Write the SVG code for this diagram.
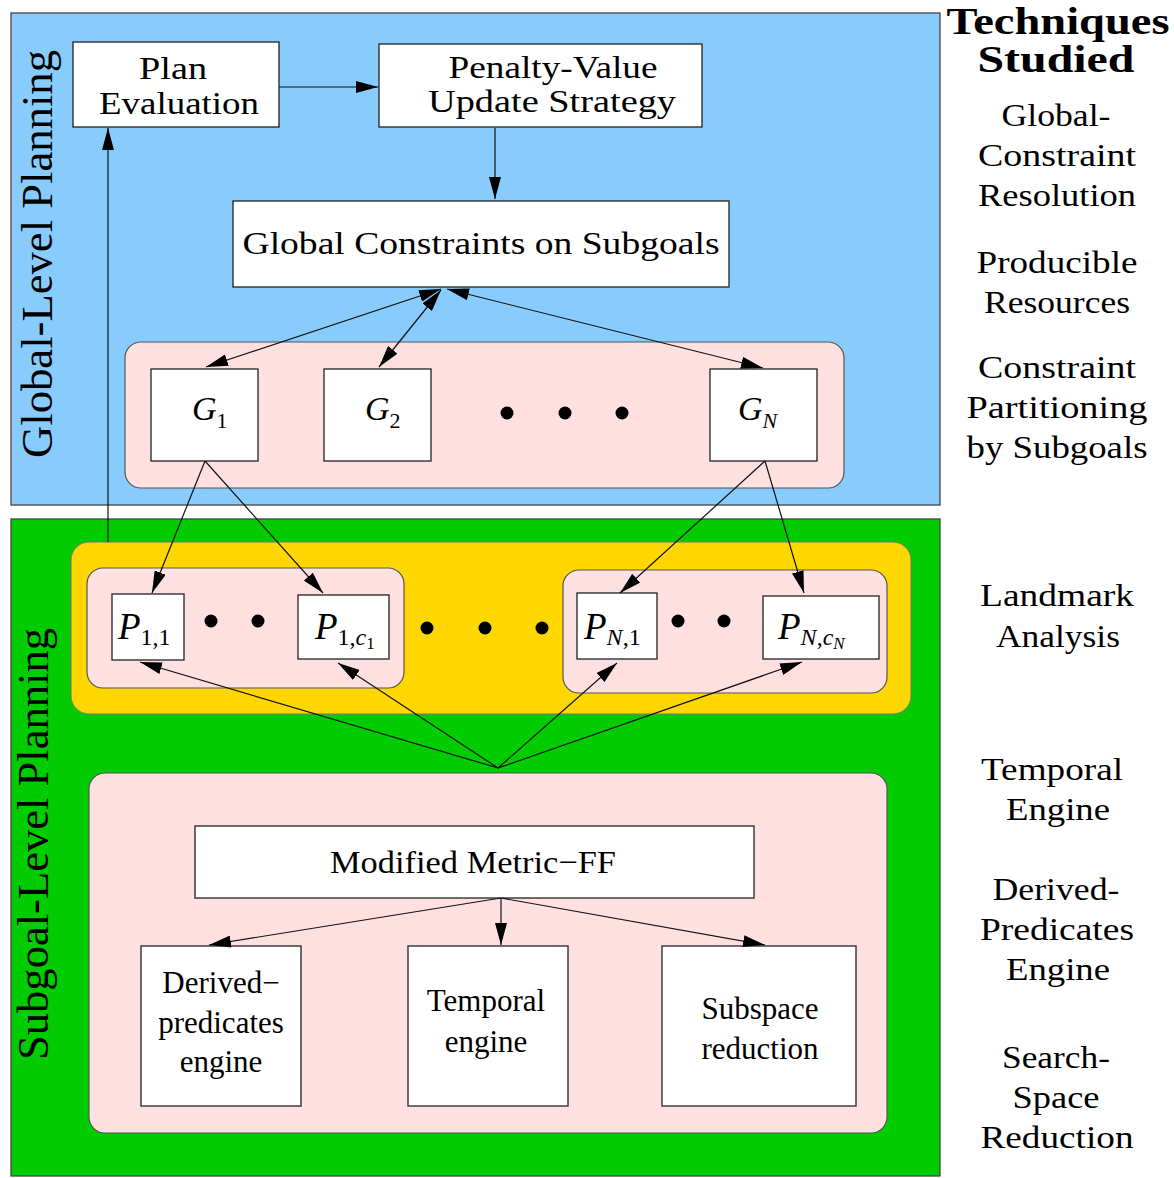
<svg xmlns="http://www.w3.org/2000/svg" width="1174" height="1178" viewBox="0 0 1174 1178">
<style>
.t{font-family:"Liberation Serif","Times New Roman",serif;fill:#000}
.c{text-anchor:middle}
.lbl{font-size:32px}
.side{font-size:32px}
.bx{font-size:31px}
.it{font-style:italic}
.up{font-style:normal}
.box{fill:#fff;stroke:#222;stroke-width:1.3}
.grp{fill:#ffe0e0;stroke:#555;stroke-width:1.2}
.panel{stroke:#444;stroke-width:1.3}
.dot{fill:#000}
.ln{stroke:#111;stroke-width:1.2;fill:none;marker-end:url(#ah)}
.bi{marker-start:url(#ah)}
</style>
<defs>
<marker id="ah" markerUnits="userSpaceOnUse" markerWidth="22" markerHeight="12" refX="22" refY="6" orient="auto-start-reverse">
<path d="M0,0 L22,6 L0,12 z" fill="#000"/>
</marker>
</defs>
<rect width="1174" height="1178" fill="#fff"/>

<g id="global-panel">
<rect class="panel" x="11" y="13" width="929" height="492" fill="#87ccfc"/>
<text class="t c" font-size="44" transform="translate(52,254) rotate(-90)" textLength="408" lengthAdjust="spacingAndGlyphs">Global-Level Planning</text>
</g>
<g id="subgoal-panel">
<rect class="panel" x="11" y="519" width="929" height="657" fill="#00cc00"/>
<text class="t c" font-size="44" transform="translate(48,844) rotate(-90)" textLength="432" lengthAdjust="spacingAndGlyphs">Subgoal-Level Planning</text>
</g>

<g id="subgoal-group">
<rect class="grp" x="125" y="342" width="719" height="146" rx="16"/>
<circle class="dot" cx="507" cy="413" r="6.5"/>
<circle class="dot" cx="565" cy="413" r="6.5"/>
<circle class="dot" cx="622" cy="413" r="6.5"/>
</g>

<g id="landmark-group">
<rect x="71" y="542" width="840" height="172" rx="18" fill="#ffd700" stroke="#777" stroke-width="1"/>
<rect class="grp" x="87" y="568" width="317" height="120" rx="16"/>
<rect class="grp" x="563" y="570" width="324" height="123" rx="16"/>
<circle class="dot" cx="211" cy="621" r="6.5"/>
<circle class="dot" cx="258" cy="621" r="6.5"/>
<circle class="dot" cx="427" cy="628" r="6.5"/>
<circle class="dot" cx="485" cy="628" r="6.5"/>
<circle class="dot" cx="542" cy="628" r="6.5"/>
<circle class="dot" cx="678" cy="621" r="6.5"/>
<circle class="dot" cx="724" cy="621" r="6.5"/>
</g>

<g id="engine-group">
<rect class="grp" x="89" y="773" width="798" height="360" rx="16"/>
</g>

<g id="plan-evaluation">
<rect class="box" x="73" y="42" width="206" height="85"/>
<text class="t c lbl" x="173" y="79" textLength="68" lengthAdjust="spacingAndGlyphs">Plan</text>
<text class="t c lbl" x="179" y="114" textLength="160" lengthAdjust="spacingAndGlyphs">Evaluation</text>
</g>
<g id="penalty-value">
<rect class="box" x="379" y="44" width="323" height="83"/>
<text class="t c lbl" x="553" y="78" textLength="209" lengthAdjust="spacingAndGlyphs">Penalty-Value</text>
<text class="t c lbl" x="552" y="112" textLength="248" lengthAdjust="spacingAndGlyphs">Update Strategy</text>
</g>
<g id="global-constraints">
<rect class="box" x="233" y="201" width="496" height="86"/>
<text class="t c lbl" x="481" y="254" textLength="477" lengthAdjust="spacingAndGlyphs">Global Constraints on Subgoals</text>
</g>

<g id="G1">
<rect class="box" x="151" y="369" width="107" height="92"/>
<text class="t it" font-size="34" x="192" y="420">G<tspan class="up" font-size="22" dy="8">1</tspan></text>
</g>
<g id="G2">
<rect class="box" x="324" y="369" width="107" height="92"/>
<text class="t it" font-size="34" x="365" y="420">G<tspan class="up" font-size="22" dy="8">2</tspan></text>
</g>
<g id="GN">
<rect class="box" x="710" y="369" width="107" height="92"/>
<text class="t it" font-size="34" x="738" y="420">G<tspan font-size="22" dy="8">N</tspan></text>
</g>

<g id="P11">
<rect class="box" x="112" y="594" width="72" height="66"/>
<text class="t it" font-size="37" x="118" y="639">P<tspan class="up" font-size="24" dy="6">1,1</tspan></text>
</g>
<g id="P1c1">
<rect class="box" x="298" y="595" width="91" height="64"/>
<text class="t it" font-size="37" x="315" y="639">P<tspan class="up" font-size="24" dy="6">1,</tspan><tspan font-size="24">c</tspan><tspan class="up" font-size="17" dy="4">1</tspan></text>
</g>
<g id="PN1">
<rect class="box" x="577" y="593" width="80" height="66"/>
<text class="t it" font-size="37" x="584" y="639">P<tspan font-size="24" dy="6">N</tspan><tspan class="up" font-size="24">,1</tspan></text>
</g>
<g id="PNcN">
<rect class="box" x="763" y="596" width="116" height="63"/>
<text class="t it" font-size="37" x="778" y="639">P<tspan font-size="24" dy="6">N</tspan><tspan class="up" font-size="24">,</tspan><tspan font-size="24">c</tspan><tspan font-size="17" dy="4">N</tspan></text>
</g>

<g id="metric-ff">
<rect class="box" x="195" y="826" width="559" height="72"/>
<text class="t c" font-size="32" x="473" y="873" textLength="286" lengthAdjust="spacingAndGlyphs">Modified Metric−FF</text>
</g>
<g id="derived-engine">
<rect class="box" x="141" y="946" width="160" height="160"/>
<text class="t c bx" x="221" y="993">Derived−</text>
<text class="t c bx" x="221" y="1033">predicates</text>
<text class="t c bx" x="221" y="1072">engine</text>
</g>
<g id="temporal-engine">
<rect class="box" x="408" y="946" width="160" height="160"/>
<text class="t c bx" x="486" y="1011">Temporal</text>
<text class="t c bx" x="486" y="1052">engine</text>
</g>
<g id="subspace-reduction">
<rect class="box" x="662" y="946" width="194" height="160"/>
<text class="t c bx" x="760" y="1019">Subspace</text>
<text class="t c bx" x="760" y="1059">reduction</text>
</g>

<g id="connectors">
<line class="ln" x1="279" y1="87" x2="378" y2="87"/>
<line class="ln" x1="495" y1="128" x2="495" y2="199"/>
<line class="ln" x1="108" y1="542" x2="108" y2="128"/>
<line class="ln bi" x1="441" y1="289" x2="206" y2="367"/>
<line class="ln bi" x1="441" y1="290" x2="379" y2="367"/>
<line class="ln bi" x1="447" y1="289" x2="763" y2="368"/>
<line class="ln" x1="205" y1="461" x2="152" y2="593"/>
<line class="ln" x1="205" y1="461" x2="323" y2="593"/>
<line class="ln" x1="765" y1="461" x2="620" y2="593"/>
<line class="ln" x1="765" y1="461" x2="804" y2="593"/>
<line class="ln" x1="498" y1="768" x2="140" y2="662"/>
<line class="ln" x1="498" y1="768" x2="338" y2="663"/>
<line class="ln" x1="498" y1="768" x2="617" y2="663"/>
<line class="ln" x1="498" y1="768" x2="802" y2="662"/>
<line class="ln" x1="501" y1="898" x2="209" y2="945"/>
<line class="ln" x1="501" y1="898" x2="501" y2="945"/>
<line class="ln" x1="501" y1="898" x2="765" y2="945"/>
</g>

<g id="techniques">
<text class="t c" font-size="38" font-weight="bold" x="1058" y="34" textLength="223" lengthAdjust="spacingAndGlyphs">Techniques</text>
<text class="t c" font-size="38" font-weight="bold" x="1056" y="72" textLength="157" lengthAdjust="spacingAndGlyphs">Studied</text>
<text class="t c side" x="1056" y="126" textLength="109" lengthAdjust="spacingAndGlyphs">Global-</text>
<text class="t c side" x="1057" y="166" textLength="158" lengthAdjust="spacingAndGlyphs">Constraint</text>
<text class="t c side" x="1057" y="206" textLength="158" lengthAdjust="spacingAndGlyphs">Resolution</text>
<text class="t c side" x="1057" y="273" textLength="161" lengthAdjust="spacingAndGlyphs">Producible</text>
<text class="t c side" x="1057" y="313" textLength="146" lengthAdjust="spacingAndGlyphs">Resources</text>
<text class="t c side" x="1057" y="378" textLength="158" lengthAdjust="spacingAndGlyphs">Constraint</text>
<text class="t c side" x="1057" y="418" textLength="181" lengthAdjust="spacingAndGlyphs">Partitioning</text>
<text class="t c side" x="1057" y="458" textLength="181" lengthAdjust="spacingAndGlyphs">by Subgoals</text>
<text class="t c side" x="1057" y="606" textLength="154" lengthAdjust="spacingAndGlyphs">Landmark</text>
<text class="t c side" x="1058" y="647" textLength="124" lengthAdjust="spacingAndGlyphs">Analysis</text>
<text class="t c side" x="1052" y="780" textLength="142" lengthAdjust="spacingAndGlyphs">Temporal</text>
<text class="t c side" x="1058" y="820" textLength="104" lengthAdjust="spacingAndGlyphs">Engine</text>
<text class="t c side" x="1056" y="900" textLength="127" lengthAdjust="spacingAndGlyphs">Derived-</text>
<text class="t c side" x="1057" y="940" textLength="154" lengthAdjust="spacingAndGlyphs">Predicates</text>
<text class="t c side" x="1058" y="980" textLength="104" lengthAdjust="spacingAndGlyphs">Engine</text>
<text class="t c side" x="1056" y="1068" textLength="108" lengthAdjust="spacingAndGlyphs">Search-</text>
<text class="t c side" x="1056" y="1108" textLength="87" lengthAdjust="spacingAndGlyphs">Space</text>
<text class="t c side" x="1057" y="1148" textLength="153" lengthAdjust="spacingAndGlyphs">Reduction</text>
</g>
</svg>
